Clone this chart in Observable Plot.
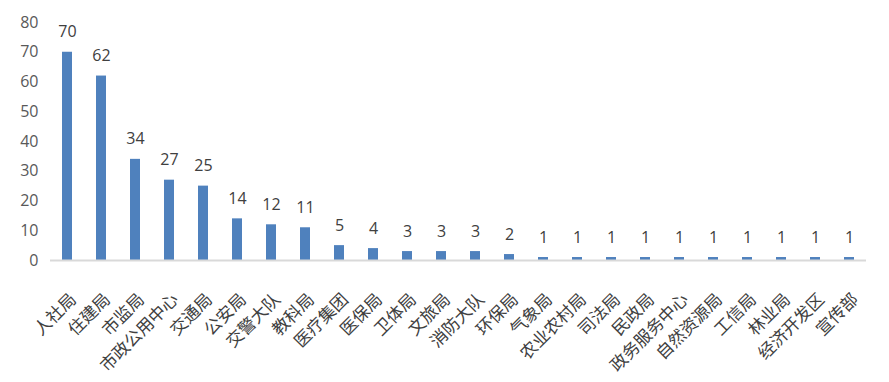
<!DOCTYPE html>
<html>
<head>
<meta charset="utf-8">
<script src="https://cdn.jsdelivr.net/npm/d3@7"></script>
<script src="https://cdn.jsdelivr.net/npm/@observablehq/plot@0.6"></script>
<style>
  html, body { margin: 0; padding: 0; background: #fff; }
  #chart svg { display: block; }
</style>
</head>
<body>
<div id="chart"></div>
<script>
const categories = ["人社局","住建局","市监局","市政公用中心","交通局","公安局","交警大队","教科局","医疗集团","医保局","卫体局","文旅局","消防大队","环保局","气象局","农业农村局","司法局","民政局","政务服务中心","自然资源局","工信局","林业局","经济开发区","宣传部"];
const values = [70,62,34,27,25,14,12,11,5,4,3,3,3,2,1,1,1,1,1,1,1,1,1,1];
const yTicks = [0,10,20,30,40,50,60,70,80];

const data = categories.map((name, i) => ({name, value: values[i]}));
const numFont = "'Open Sans', 'DejaVu Sans', sans-serif";

const chart = Plot.plot({
  width: 889,
  height: 382,
  marginTop: 22,
  marginBottom: 122,
  marginLeft: 50,
  marginRight: 23,
  style: {fontFamily: "'Noto Sans CJK SC', 'Noto Sans', sans-serif", background: "#fff"},
  x: {domain: categories, paddingInner: 0.7, paddingOuter: 0.35, label: null, axis: null},
  y: {domain: [0, 80], ticks: yTicks, label: null},
  marks: [
    Plot.axisY({ticks: yTicks, tickSize: 0, tickPadding: 12, fontSize: 16, color: "#595959", label: null, fontFamily: numFont}),
    Plot.text(categories, {x: d => d, text: d => d, frameAnchor: "bottom", rotate: -45, textAnchor: "end", lineAnchor: "middle", dx: 6, dy: 36, fontSize: 17, fill: "#404040"}),
    Plot.barY(data, {x: "name", y: "value", fill: "#4f81bd"}),
    Plot.ruleY([0], {stroke: "#d9d9d9", strokeWidth: 2}),
    Plot.text(data, {x: "name", y: "value", text: d => String(d.value), lineAnchor: "bottom", dy: -15, fontSize: 16, fill: "#404040", fontFamily: numFont})
  ]
});
document.getElementById("chart").appendChild(chart);
</script>
</body>
</html>
